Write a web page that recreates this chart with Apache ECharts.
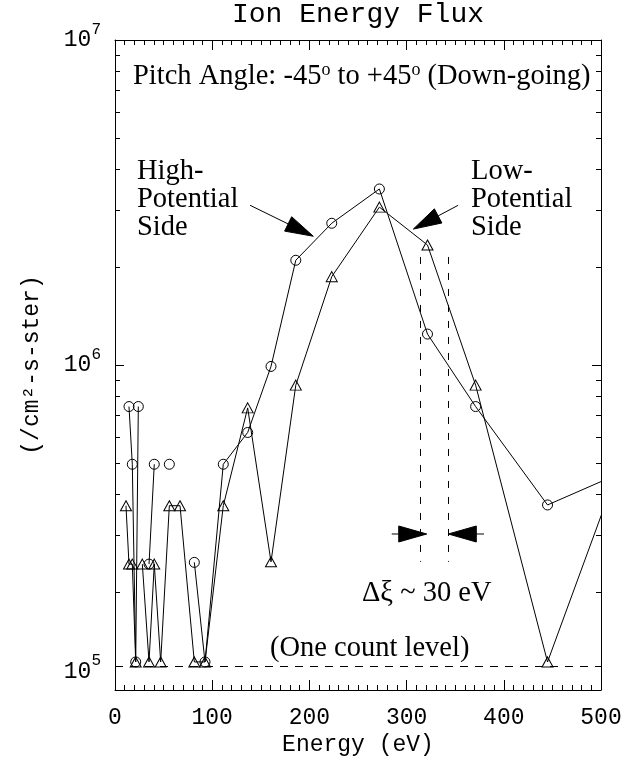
<!DOCTYPE html>
<html><head><meta charset="utf-8">
<script src="https://cdn.jsdelivr.net/npm/echarts@6/dist/echarts.min.js"></script>
<style>html,body{margin:0;padding:0;background:#fff}#c{width:644px;height:768px}</style>
</head><body><div id="c"></div>
<script>
// ---- data ----
const energy = [11.3, 14.4, 17.8, 21.3, 24, 28.1, 35, 40.4, 47, 55.9, 66.9, 81.6, 92.6, 111.4, 136.5, 160.5, 186, 223, 272, 321.5, 371, 445, 534];
const circleFlux = [null, 7.45e5, 4.95e5, 1.22e5, 7.45e5, null, 2.44e5, 4.95e5, null, 4.95e5, null, 2.47e5, 1.22e5, 4.95e5, 6.2e5, 9.9e5, 2.10e6, 2.73e6, 3.48e6, 1.245e6, 7.45e5, 3.71e5, 4.85e5];
const triangleFlux = [3.69e5, 2.44e5, 2.44e5, 1.22e5, null, 2.44e5, 1.22e5, 2.44e5, 1.22e5, 3.69e5, 3.69e5, 1.22e5, 1.22e5, 3.69e5, 7.38e5, 2.48e5, 8.67e5, 1.87e6, 3.06e6, 2.34e6, 8.67e5, 1.22e5, 6.5e5];
const xTickValues = [0, 100, 200, 300, 400, 500];
const yMajorTicks = [1e5, 1e6, 1e7];
const yMinorTicks = [2e5, 3e5, 4e5, 5e5, 6e5, 7e5, 8e5, 9e5, 2e6, 3e6, 4e6, 5e6, 6e6, 7e6, 8e6, 9e6];
const oneCountLevel = 1.18e5;
const deltaXiEdges = [314, 343];          // eV
const deltaXiSpan = [2.15e6, 2.48e5];     // flux range of the dashed markers
const deltaXiArrowLevel = 3.02e5;

const titleText = 'Ion Energy Flux';
const xTitle = 'Energy (eV)';
const yTitle = '(/cm²-s-ster)';

// ---- styles ----
const HERSHEY = 'Liberation Mono';
const TIMES = 'Liberation Serif';
const INK = '#000';
const ANN = 28.5;

const chart = echarts.init(document.getElementById('c'), null, {renderer: 'canvas'});

function pairs(vals) { return energy.map((e, i) => [e, vals[i] == null ? '-' : vals[i]]); }

function yAxisDef(pos, ticks, len, withLine, withLabel) {
  return {
    type: 'log', logBase: 10, min: 1e5, max: 1e7, position: pos,
    axisLine: {show: withLine, lineStyle: {color: INK, width: 1}},
    axisTick: {show: true, inside: true, length: len, customValues: ticks, lineStyle: {color: INK, width: 1}},
    splitLine: {show: false},
    minorTick: {show: false},
    axisLabel: withLabel ? {
      show: true, customValues: yMajorTicks, margin: 14,
      verticalAlignMinLabel: 'bottom',
      formatter: v => '{b|10}{e|' + Math.round(Math.log10(v)) + '}',
      rich: {
        b: {fontFamily: HERSHEY, fontSize: 23, color: INK},
        e: {fontFamily: HERSHEY, fontSize: 16, color: INK, padding: [0, 0, 21, 0]}
      }
    } : {show: false},
    name: withLabel ? yTitle : '',
    nameLocation: 'middle', nameGap: 72, nameRotate: 90,
    nameTextStyle: {fontFamily: HERSHEY, fontSize: 23, color: INK}
  };
}

function xAxisDef(pos, withLabel) {
  return {
    type: 'value', min: 0, max: 500, interval: 100, position: pos,
    axisLine: {show: true, onZero: false, lineStyle: {color: INK, width: 1}},
    axisTick: {show: true, inside: true, length: 10, lineStyle: {color: INK, width: 1}},
    minorTick: {show: true, splitNumber: 10, length: 5, lineStyle: {color: INK, width: 1}},
    splitLine: {show: false}, minorSplitLine: {show: false},
    axisLabel: withLabel ? {show: true, margin: 16, fontFamily: HERSHEY, fontSize: 23, color: INK,
      customValues: xTickValues} : {show: false},
    name: withLabel ? xTitle : '',
    nameLocation: 'middle', nameGap: 37,
    nameTextStyle: {fontFamily: HERSHEY, fontSize: 23, color: INK}
  };
}

const symbolStyle = {color: 'rgba(0,0,0,0)', borderColor: INK, borderWidth: 1};

const option = {
  animation: false,
  backgroundColor: '#fff',
  title: {text: titleText, left: 358, top: 1, padding: 0, textAlign: 'center',
    textStyle: {fontFamily: HERSHEY, fontSize: 28, fontWeight: 'normal', color: INK}},
  grid: {left: 115, right: 43, top: 40, bottom: 78, containLabel: false},
  xAxis: [xAxisDef('bottom', true), xAxisDef('top', false)],
  yAxis: [
    yAxisDef('left', yMajorTicks, 9, true, true),
    yAxisDef('left', yMinorTicks, 5, false, false),
    yAxisDef('right', yMajorTicks, 9, true, false),
    yAxisDef('right', yMinorTicks, 5, false, false)
  ],
  series: [
    {
      name: 'circles', type: 'line', data: pairs(circleFlux), xAxisIndex: 0, yAxisIndex: 0,
      symbol: 'circle', symbolSize: 10, showAllSymbol: true, clip: true,
      lineStyle: {color: INK, width: 1}, itemStyle: symbolStyle,
      emphasis: {disabled: true},
      markLine: {
        silent: true, symbol: 'none', animation: false,
        label: {show: false},
        lineStyle: {color: INK, width: 1, type: [8, 7]},
        data: [{yAxis: oneCountLevel}]
      }
    },
    {
      name: 'triangles', type: 'line', data: pairs(triangleFlux), xAxisIndex: 0, yAxisIndex: 0,
      symbol: 'triangle', symbolSize: [11, 10], showAllSymbol: true, clip: true,
      lineStyle: {color: INK, width: 1}, itemStyle: symbolStyle,
      emphasis: {disabled: true},
      markLine: {
        silent: true, symbol: 'none', animation: false,
        label: {show: false},
        lineStyle: {color: INK, width: 1, type: [7, 9]},
        data: deltaXiEdges.map(e => [{coord: [e, deltaXiSpan[0]]}, {coord: [e, deltaXiSpan[1]]}])
      }
    }
  ]
};
chart.setOption(option);

// ---- annotations: arrows anchored in data coordinates ----
const arrowDefs = [
  {tail: [139, 3.1e6], tip: [204, 2.49e6]},
  {tail: [353, 3.1e6], tip: [307, 2.62e6]},
  {tail: [284.7, deltaXiArrowLevel], tip: [320.7, deltaXiArrowLevel]},
  {tail: [379.6, deltaXiArrowLevel], tip: [342.9, deltaXiArrowLevel]}
];
const px = p => chart.convertToPixel({seriesIndex: 0}, p);
const graphics = [];
arrowDefs.forEach(a => {
  const t = px(a.tail), h = px(a.tip);
  const dx = h[0] - t[0], dy = h[1] - t[1];
  const L = Math.hypot(dx, dy), ux = dx / L, uy = dy / L;
  const headLen = 28, halfW = 8;
  const bx = h[0] - ux * headLen, by = h[1] - uy * headLen;
  graphics.push({type: 'polyline', shape: {points: [t, [bx, by]]}, style: {stroke: INK, lineWidth: 1, fill: null}, silent: true});
  graphics.push({type: 'polygon', shape: {points: [h, [bx - uy * halfW, by + ux * halfW], [bx + uy * halfW, by - ux * halfW]]},
    style: {fill: INK, stroke: INK, lineWidth: 1}, silent: true});
});

graphics.push({type: 'text', left: 133, top: 61, silent: true,
  style: {text: 'Pitch Angle: -45{s|o} to +45{s|o} (Down-going)', fontFamily: TIMES, fontSize: ANN, fill: INK,
    rich: {s: {fontSize: 18, fontFamily: TIMES, padding: [0, 0, 13, 0]}}}});
graphics.push({type: 'text', left: 137, top: 157, silent: true,
  style: {text: 'High-\nPotential\nSide', fontFamily: TIMES, fontSize: ANN, lineHeight: 28, fill: INK}});
graphics.push({type: 'text', left: 471, top: 157, silent: true,
  style: {text: 'Low-\nPotential\nSide', fontFamily: TIMES, fontSize: ANN, lineHeight: 28, fill: INK}});
graphics.push({type: 'text', left: 362, top: 579, silent: true,
  style: {text: 'Δξ ~ 30 eV', fontFamily: TIMES, fontSize: ANN, fill: INK}});
graphics.push({type: 'text', left: 270, top: 634, silent: true,
  style: {text: '(One count level)', fontFamily: TIMES, fontSize: ANN, fill: INK}});

chart.setOption({graphic: graphics});
</script></body></html>
